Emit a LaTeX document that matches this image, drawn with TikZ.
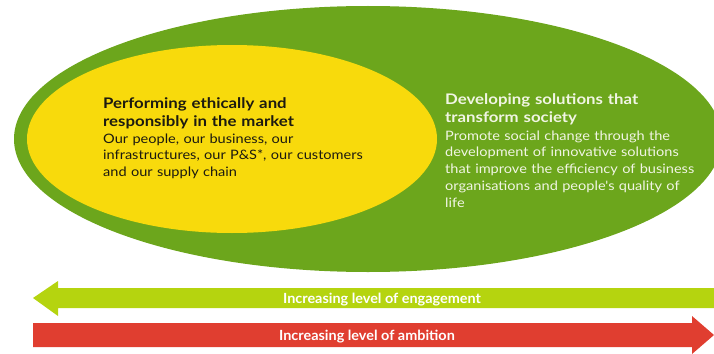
\documentclass[tikz,border=0pt]{standalone}
\usepackage{fontspec}
\setmainfont{Lato}
\newfontfamily\titlefont[FakeStretch=1.15]{Lato}
\newfontfamily\bodyfont[FakeStretch=1.12]{Lato}
\newfontfamily\arrowfont[FakeStretch=1.03]{Lato}
\usetikzlibrary{shapes.geometric}

\definecolor{outergreen}{HTML}{6CA61C}
\definecolor{innerYellow}{HTML}{F8DA0C}
\definecolor{limebar}{HTML}{B5D40F}
\definecolor{redbar}{HTML}{E03E30}
\definecolor{darktext}{HTML}{1C1A10}
\definecolor{lighttext}{HTML}{F1F5E4}

\tikzset{
  blob/.style={ellipse, inner sep=0pt, draw=none},
  titletext/.style={anchor=base west, inner sep=0pt, align=left, text width=#1,
    font=\titlefont\fontsize{14.6}{18.5}\selectfont\bfseries},
  bodytext/.style={anchor=base west, inner sep=0pt, align=left, text width=#1,
    font=\bodyfont\fontsize{13}{16.8}\selectfont},
  bartext/.style={anchor=base, inner sep=0pt, text=white,
    font=\arrowfont\fontsize{14}{16}\selectfont\bfseries},
}

\begin{document}
\begin{tikzpicture}[x=1pt, y=-1pt]
  \useasboundingbox (0,0) rectangle (714,353);

  \begin{scope}
    \clip (0,0) rectangle (714,353);
    % outer and inner ellipses
    \node[blob, fill=outergreen, minimum width=708pt, minimum height=266pt] (outer) at (368,139) {};
    \node[blob, fill=innerYellow, minimum width=410pt, minimum height=188pt] (inner) at (232,139) {};

    % lime arrow pointing left
    \fill[limebar] (33,298) -- (58,281) -- (58,288) -- (714,288) -- (714,308)
      -- (58,308) -- (58,316) -- cycle;
    % red arrow pointing right
    \fill[redbar] (33,323) -- (692,323) -- (692,316) -- (714,335) -- (692,354)
      -- (692,347) -- (33,347) -- cycle;
  \end{scope}

  % left block
  \node[titletext=280pt, text=darktext] (lefttitle) at (103,108)
    {Performing ethically and\\responsibly in the market};
  \node[bodytext=300pt, text=darktext] (leftbody) at (103,143)
    {Our people, our business, our\\infrastructures, our P\&S*, our customers\\and our supply chain};

  % right block
  \node[titletext=260pt, text=lighttext] (righttitle) at (445,104)
    {Developing solutions that\\transform society};
  \node[bodytext=265pt, text=lighttext] (rightbody) at (445,140)
    {Promote social change through the\\development of innovative solutions\\that improve the efficiency of business\\organisations and people's quality of\\life};

  % arrow labels
  \node[bartext] (engage) at (382,303) {Increasing level of engagement};
  \node[bartext] (ambit) at (367,340) {Increasing level of ambition};
\end{tikzpicture}
\end{document}
